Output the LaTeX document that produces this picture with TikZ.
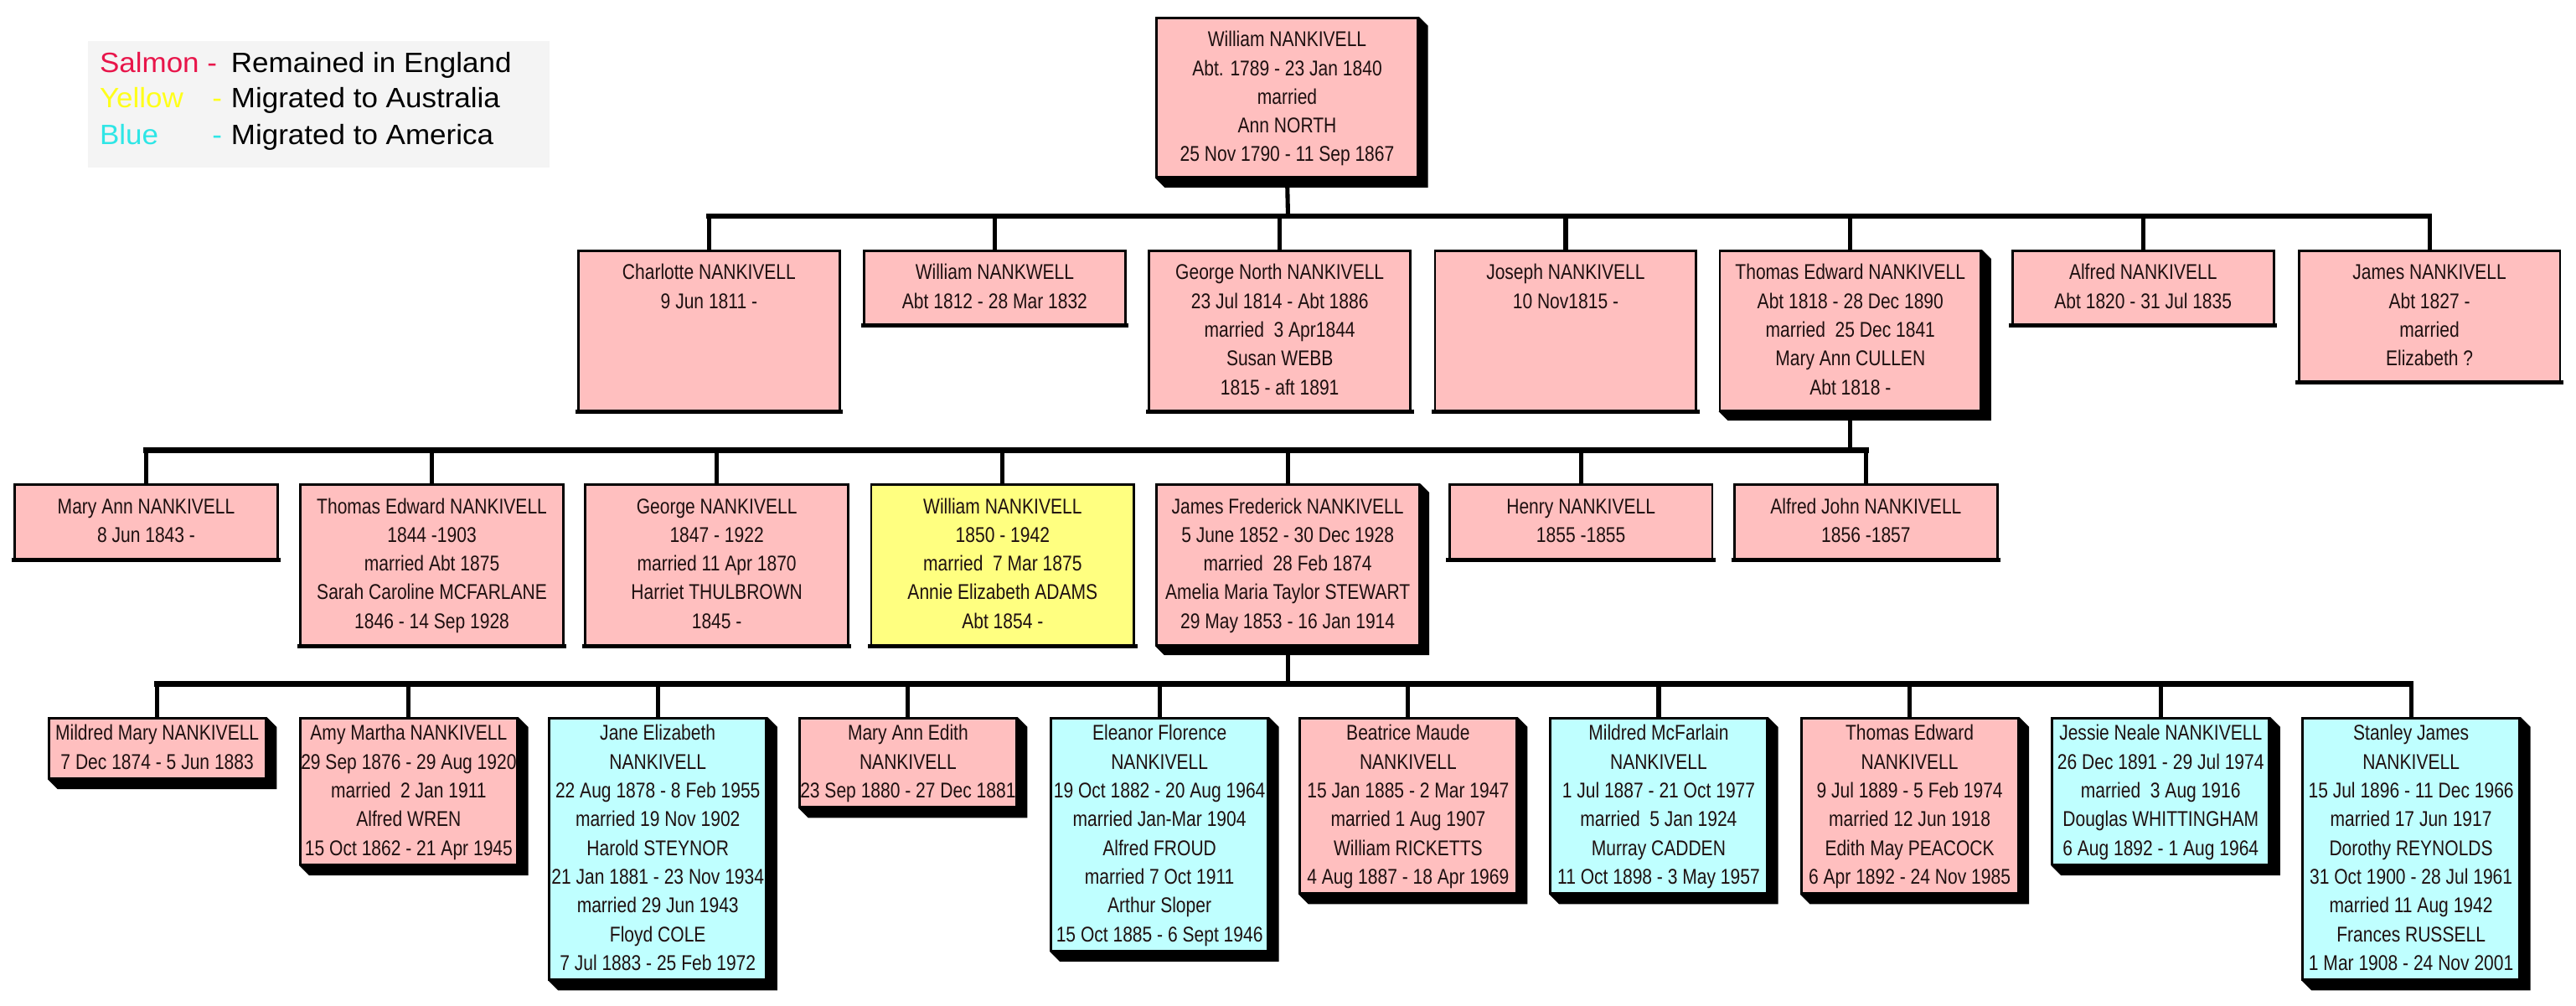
\documentclass[tikz,border=0pt]{standalone}
\usepackage{fontspec}
\usetikzlibrary{backgrounds,calc}
\newfontfamily\boxfont[FakeStretch=0.825]{Liberation Sans}
\newfontfamily\legfont[FakeStretch=1.05]{Liberation Sans}
\definecolor{salm}{HTML}{FFBFBF}
\definecolor{aqua}{HTML}{BFFFFF}
\definecolor{yel}{HTML}{FFFF80}
\definecolor{legbg}{HTML}{F4F4F4}
\definecolor{legred}{HTML}{E8154A}
\definecolor{legyel}{HTML}{FFFF1A}
\definecolor{legcyan}{HTML}{2EE6E6}
\definecolor{inkc}{HTML}{1E1010}
% box content: width, height, space above first strut, lines
\newcommand{\famcell}[4]{\vbox to #2pt{\hsize=#1pt\relax\vskip #3pt\relax #4\vss}}
\newcommand{\pline}[1]{\hbox to\hsize{\hss\rule[-5.25pt]{0pt}{17.5pt}#1\hss}}
\tikzset{
  fam/.style={draw=black, line width=1.4pt, inner sep=0pt, anchor=north, text=inkc,
    font=\boxfont\fontsize{13}{17.5}\selectfont},
  salmonbox/.style={fam, fill=salm},
  aquabox/.style={fam, fill=aqua},
  yellowbox/.style={fam, fill=yel},
  bus/.style={line width=3.4pt, line cap=rect},
  stem/.style={line width=2.6pt},
  bottomedge/.style={line width=2.6pt, line cap=rect},
  legtxt/.style={anchor=base west, inner sep=0pt, font=\legfont\fontsize{17}{20}\selectfont},
}
\begin{document}
\begin{tikzpicture}[x=1pt,y=-1pt]
\useasboundingbox (0,0) rectangle (1568,612);

% legend
\node[fill=legbg, minimum width=281pt, minimum height=77pt, inner sep=0pt, anchor=north west] (legendbox) at (53.5,25) {};
\node[legtxt, text=legred] (legs) at (60.5,44.2) {Salmon -};
\node[legtxt] (legst) at (140.5,44.2) {Remained in England};
\node[legtxt, text=legyel] (legy) at (60.5,65.6) {Yellow};
\node[legtxt, text=legyel] (legyd) at (129,65.6) {-};
\node[legtxt] (legyt) at (140.5,65.6) {Migrated to Australia};
\node[legtxt, text=legcyan] (legb) at (60.5,88.2) {Blue};
\node[legtxt, text=legcyan] (legbd) at (129,88.2) {-};
\node[legtxt] (legbt) at (140.5,88.2) {Migrated to America};

% generation 0
\node[salmonbox] (g0) at (783.5,10.2) {\famcell{159}{97}{5.25}{\pline{William NANKIVELL}\pline{Abt. 1789 - 23 Jan 1840}\pline{married}\pline{Ann NORTH}\pline{25 Nov 1790 - 11 Sep 1867}}};

% generation 1
\node[salmonbox] (g1a) at (431.6,152.1) {\famcell{159}{97}{5.25}{\pline{Charlotte NANKIVELL}\pline{9 Jun 1811 -}}};
\node[salmonbox] (g1b) at (605.5,152.1) {\famcell{159}{44.5}{5.25}{\pline{William NANKWELL}\pline{Abt 1812 - 28 Mar 1832}}};
\node[salmonbox] (g1c) at (779,152.1) {\famcell{159}{97}{5.25}{\pline{George North NANKIVELL}\pline{23 Jul 1814 - Abt 1886}\pline{married~ 3 Apr1844}\pline{Susan WEBB}\pline{1815 - aft 1891}}};
\node[salmonbox] (g1d) at (953,152.1) {\famcell{159}{97}{5.25}{\pline{Joseph NANKIVELL}\pline{10 Nov1815 -}}};
\node[salmonbox] (g1e) at (1126.3,152.1) {\famcell{159}{97}{5.25}{\pline{Thomas Edward NANKIVELL}\pline{Abt 1818 - 28 Dec 1890}\pline{married~ 25 Dec 1841}\pline{Mary Ann CULLEN}\pline{Abt 1818 -}}};
\node[salmonbox] (g1f) at (1304.5,152.1) {\famcell{159}{44.5}{5.25}{\pline{Alfred NANKIVELL}\pline{Abt 1820 - 31 Jul 1835}}};
\node[salmonbox] (g1g) at (1478.8,152.1) {\famcell{159}{79.5}{5.25}{\pline{James NANKIVELL}\pline{Abt 1827 -}\pline{married}\pline{Elizabeth ?}}};

% generation 2
\node[salmonbox] (g2a) at (89,294.4) {\famcell{160}{45}{5.25}{\pline{Mary Ann NANKIVELL}\pline{8 Jun 1843 -}}};
\node[salmonbox] (g2b) at (262.9,294.4) {\famcell{160}{97.5}{5.25}{\pline{Thomas Edward NANKIVELL}\pline{1844 -1903}\pline{married Abt 1875}\pline{Sarah Caroline MCFARLANE}\pline{1846 - 14 Sep 1928}}};
\node[salmonbox] (g2c) at (436.3,294.4) {\famcell{160}{97.5}{5.25}{\pline{George NANKIVELL}\pline{1847 - 1922}\pline{married 11 Apr 1870}\pline{Harriet THULBROWN}\pline{1845 -}}};
\node[yellowbox] (g2d) at (610.3,294.4) {\famcell{160}{97.5}{5.25}{\pline{William NANKIVELL}\pline{1850 - 1942}\pline{married~ 7 Mar 1875}\pline{Annie Elizabeth ADAMS}\pline{Abt 1854 -}}};
\node[salmonbox] (g2e) at (783.8,294.4) {\famcell{160}{97.5}{5.25}{\pline{James Frederick NANKIVELL}\pline{5 June 1852 - 30 Dec 1928}\pline{married~ 28 Feb 1874}\pline{Amelia Maria Taylor STEWART}\pline{29 May 1853 - 16 Jan 1914}}};
\node[salmonbox] (g2f) at (962.3,294.4) {\famcell{160}{45}{5.25}{\pline{Henry NANKIVELL}\pline{1855 -1855}}};
\node[salmonbox] (g2g) at (1135.8,294.4) {\famcell{160}{45}{5.25}{\pline{Alfred John NANKIVELL}\pline{1856 -1857}}};

% generation 3
\node[salmonbox] (g3a) at (95.7,436.5) {\famcell{132}{36.5}{1.25}{\pline{Mildred Mary NANKIVELL}\pline{7 Dec 1874 - 5 Jun 1883}}};
\node[salmonbox] (g3b) at (248.8,436.5) {\famcell{132}{89}{1.25}{\pline{Amy Martha NANKIVELL}\pline{29 Sep 1876 - 29 Aug 1920}\pline{married~ 2 Jan 1911}\pline{Alfred WREN}\pline{15 Oct 1862 - 21 Apr 1945}}};
\node[aquabox] (g3c) at (400.4,436.5) {\famcell{132}{159}{1.25}{\pline{Jane Elizabeth}\pline{NANKIVELL}\pline{22 Aug 1878 - 8 Feb 1955}\pline{married 19 Nov 1902}\pline{Harold STEYNOR}\pline{21 Jan 1881 - 23 Nov 1934}\pline{married 29 Jun 1943}\pline{Floyd COLE}\pline{7 Jul 1883 - 25 Feb 1972}}};
\node[salmonbox] (g3d) at (552.7,436.5) {\famcell{132}{54}{1.25}{\pline{Mary Ann Edith}\pline{NANKIVELL}\pline{23 Sep 1880 - 27 Dec 1881}}};
\node[aquabox] (g3e) at (705.8,436.5) {\famcell{132}{141.5}{1.25}{\pline{Eleanor Florence}\pline{NANKIVELL}\pline{19 Oct 1882 - 20 Aug 1964}\pline{married Jan-Mar 1904}\pline{Alfred FROUD}\pline{married 7 Oct 1911}\pline{Arthur Sloper}\pline{15 Oct 1885 - 6 Sept 1946}}};
\node[salmonbox] (g3f) at (857.1,436.5) {\famcell{132}{106.5}{1.25}{\pline{Beatrice Maude}\pline{NANKIVELL}\pline{15 Jan 1885 - 2 Mar 1947}\pline{married 1 Aug 1907}\pline{William RICKETTS}\pline{4 Aug 1887 - 18 Apr 1969}}};
\node[aquabox] (g3g) at (1009.6,436.5) {\famcell{132}{106.5}{1.25}{\pline{Mildred McFarlain}\pline{NANKIVELL}\pline{1 Jul 1887 - 21 Oct 1977}\pline{married~ 5 Jan 1924}\pline{Murray CADDEN}\pline{11 Oct 1898 - 3 May 1957}}};
\node[salmonbox] (g3h) at (1162.4,436.5) {\famcell{132}{106.5}{1.25}{\pline{Thomas Edward}\pline{NANKIVELL}\pline{9 Jul 1889 - 5 Feb 1974}\pline{married 12 Jun 1918}\pline{Edith May PEACOCK}\pline{6 Apr 1892 - 24 Nov 1985}}};
\node[aquabox] (g3i) at (1315.2,436.5) {\famcell{132}{89}{1.25}{\pline{Jessie Neale NANKIVELL}\pline{26 Dec 1891 - 29 Jul 1974}\pline{married~ 3 Aug 1916}\pline{Douglas WHITTINGHAM}\pline{6 Aug 1892 - 1 Aug 1964}}};
\node[aquabox] (g3j) at (1467.6,436.5) {\famcell{132}{159}{1.25}{\pline{Stanley James}\pline{NANKIVELL}\pline{15 Jul 1896 - 11 Dec 1966}\pline{married 17 Jun 1917}\pline{Dorothy REYNOLDS}\pline{31 Oct 1900 - 28 Jul 1961}\pline{married 11 Aug 1942}\pline{Frances RUSSELL}\pline{1 Mar 1908 - 24 Nov 2001}}};

% 3D shadows
\begin{scope}[on background layer]
\foreach \n/\d in {g0/5.5,g1e/5.5,g2e/5.5,g3a/6,g3b/6,g3c/6,g3d/6,g3e/6,g3f/6,g3g/6,g3h/6,g3i/6,g3j/6}
  \fill[black] (\n.north east) -- ++(\d,\d) -- ($(\n.south east)+(\d,\d)$) -- ($(\n.south west)+(\d,\d)$) -- (\n.south west) -- cycle;
\end{scope}

% heavier bottom edge on the flat boxes
\foreach \n in {g1a,g1b,g1c,g1d,g1f,g1g,g2a,g2b,g2c,g2d,g2f,g2g}
  \draw[bottomedge] (\n.south west) -- (\n.south east);

% junctions
\coordinate (j1) at (784,131.6);
\coordinate (j2) at (1126.3,274.2);
\coordinate (j3) at (783.8,416.5);

% gen 0 -> gen 1
\draw[stem] (g0.south) -- (j1);
\draw[bus] (g1a.north |- j1) -- (g1g.north |- j1);
\foreach \c in {g1a,g1b,g1c,g1d,g1e,g1f,g1g}
  \draw[stem] (\c.north |- j1) -- (\c.north);

% gen 1 -> gen 2
\draw[stem] (g1e.south) -- (j2);
\draw[bus] (g2a.north |- j2) -- (g2g.north |- j2);
\foreach \c in {g2a,g2b,g2c,g2d,g2e,g2f,g2g}
  \draw[stem] (\c.north |- j2) -- (\c.north);

% gen 2 -> gen 3
\draw[stem] (g2e.south) -- (j3);
\draw[bus] (g3a.north |- j3) -- (g3j.north |- j3);
\foreach \c in {g3a,g3b,g3c,g3d,g3e,g3f,g3g,g3h,g3i,g3j}
  \draw[stem] (\c.north |- j3) -- (\c.north);
\end{tikzpicture}
\end{document}
